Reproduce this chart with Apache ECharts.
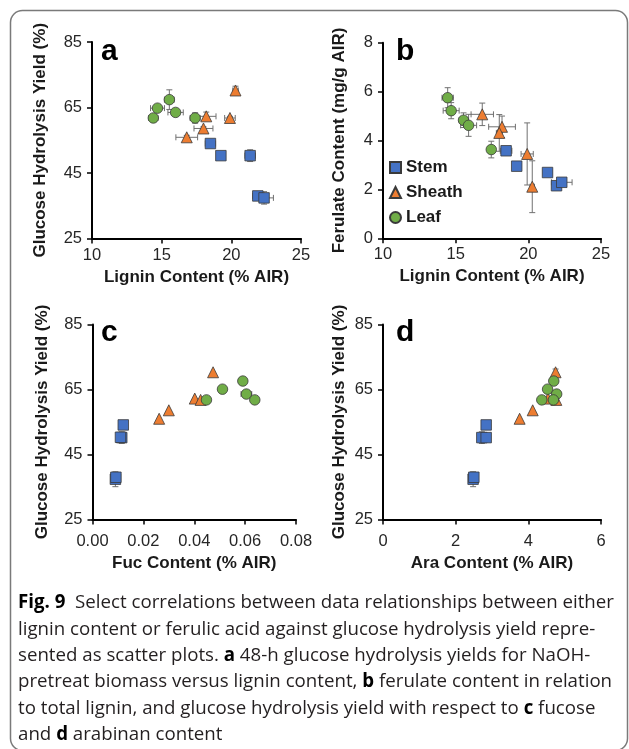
<!DOCTYPE html>
<html>
<head>
<meta charset="utf-8">
<script src="https://cdn.jsdelivr.net/npm/echarts@6/dist/echarts.min.js"></script>
<style>
html,body{margin:0;padding:0;background:#fff;}
#chart{width:629px;height:749px;}
</style>
</head>
<body>
<div id="chart"></div>
<script>
// ---- Data: each point is [x, y, xErr, yErr] ----
// Panel a: glucose hydrolysis yield (%) vs lignin content (% AIR)
const aStem   = [[18.5,54.0,0.37,0.4],[19.25,50.3,0.25,0.4],[21.35,50.3,0.38,1.8],[21.9,38.0,0.36,0.5],[22.35,37.4,0.67,1.9]];
const aSheath = [[20.3,70.2,0.2,1.3],[18.2,62.3,0.7,1.3],[19.9,61.8,0.38,0.5],[18.0,58.6,0.68,0.5],[16.8,55.9,0.78,0.6]];
const aLeaf   = [[14.4,61.8,0.33,0.4],[14.7,64.8,0.5,0.4],[15.55,67.4,0.35,3.0],[16.0,63.5,0.55,0.5],[17.4,61.8,0.36,1.6]];
// Panel b: ferulate content (mg/g AIR) vs lignin content (% AIR)
const bStem   = [[18.47,3.58,0.4,0.05],[19.2,2.95,0.25,0.05],[21.32,2.69,0.3,0.1],[21.94,2.15,0.3,0.05],[22.3,2.29,0.71,0.1]];
const bSheath = [[16.83,5.07,0.77,0.46],[18.19,4.56,0.92,0.44],[18.0,4.31,0.2,0.75],[19.92,3.45,0.42,1.27],[20.27,2.11,0.15,1.06]];
const bLeaf   = [[14.45,5.75,0.39,0.41],[14.69,5.22,0.55,0.33],[15.54,4.83,0.3,0.3],[15.89,4.62,0.55,0.45],[17.45,3.63,0.2,0.34]];
// Panel c: glucose hydrolysis yield (%) vs Fuc content (% AIR)
const cStem   = [[0.0121,54.1,0,0],[0.0115,50.2,0,1.8],[0.011,50.3,0,0],[0.009,37.4,0,2.3],[0.0092,38.0,0,0]];
const cSheath = [[0.0474,70.3,0,0],[0.0402,62.2,0,0],[0.0425,61.8,0,0],[0.030,58.6,0,0],[0.0262,56.0,0,0]];
const cLeaf   = [[0.0591,67.6,0,0],[0.0511,65.1,0,0],[0.0605,63.6,0.0021,0],[0.0448,61.8,0,0],[0.0638,61.8,0,0]];
// Panel d: glucose hydrolysis yield (%) vs Ara content (% AIR)
const dStem   = [[2.84,54.1,0,0],[2.72,50.2,0,1.8],[2.84,50.2,0,0],[2.48,37.4,0,2.3],[2.5,38.0,0,0]];
const dSheath = [[4.75,70.3,0,1.0],[4.54,62.2,0,0],[4.77,61.8,0,0],[4.12,58.6,0,0],[3.76,56.0,0,0]];
const dLeaf   = [[4.70,67.6,0,0],[4.53,65.1,0,0],[4.78,63.6,0,0.9],[4.37,61.8,0,0],[4.69,61.8,0,1.0]];

const groupNames = ['Stem','Sheath','Leaf'];
const panelLetters = ['a','b','c','d'];
const xTitles = ['Lignin Content (% AIR)','Lignin Content (% AIR)','Fuc Content (% AIR)','Ara Content (% AIR)'];
const yTitles = ['Glucose Hydrolysis Yield (%)','Ferulate Content (mg/g AIR)','Glucose Hydrolysis Yield (%)','Glucose Hydrolysis Yield (%)'];
const captionLines = [
  '{b|Fig. 9}  Select correlations between data relationships between either',
  'lignin content or ferulic acid against glucose hydrolysis yield repre-',
  'sented as scatter plots. {b|a} 48-h glucose hydrolysis yields for NaOH-',
  'pretreat biomass versus lignin content, {b|b} ferulate content in relation',
  'to total lignin, and glucose hydrolysis yield with respect to {b|c} fucose',
  'and {b|d} arabinan content'
];

const panels = [[aStem,aSheath,aLeaf],[bStem,bSheath,bLeaf],[cStem,cSheath,cLeaf],[dStem,dSheath,dLeaf]];

// ---- Styles ----
const FONT = 'Liberation Sans, Arial, sans-serif';
const styles = [
  {symbol:'rect', size:10.5, color:'#4472C4'},
  {symbol:'triangle', size:11, color:'#ED7D31'},
  {symbol:'circle', size:10.5, color:'#70AD47'}
];

const grids = [
  {left:92, top:42, width:209, height:196.5},
  {left:383, top:42.7, width:218, height:195.6},
  {left:92.5, top:324.5, width:203.5, height:195},
  {left:383, top:324.5, width:218, height:195}
];

const xSpec = [
  {min:10,max:25,interval:5},
  {min:10,max:25,interval:5},
  {min:0,max:0.08,interval:0.02, fmt:v=>v.toFixed(2)},
  {min:0,max:6,interval:2}
];
const ySpec = [
  {min:25,max:85,interval:20},
  {min:0,max:8,interval:2},
  {min:25,max:85,interval:20},
  {min:25,max:85,interval:20}
];
const yNameGap = [43, 35, 42, 35];
const xNameGap = [30, 30, 35, 35];
const xLabelMargin = [8, 8, 13, 13];

const axisCommon = {
  axisLine:{show:true, onZero:false, lineStyle:{color:'#000', width:2}},
  axisTick:{show:true, inside:false, length:5, lineStyle:{color:'#000', width:1.5}},
  splitLine:{show:false},
  nameTextStyle:{fontFamily:FONT, fontWeight:'bold', fontSize:17, color:'#1a1a1a'},
};

const xAxes = xSpec.map((s,i)=>Object.assign({}, axisCommon, {
  type:'value', gridIndex:i, min:s.min, max:s.max, interval:s.interval,
  name:xTitles[i], nameLocation:'middle', nameGap:xNameGap[i],
  axisLabel:{fontFamily:FONT, fontSize:16.5, color:'#262626', margin:xLabelMargin[i],
    formatter: s.fmt ? s.fmt : (v=>String(v))}
}));
const yAxes = ySpec.map((s,i)=>Object.assign({}, axisCommon, {
  type:'value', gridIndex:i, min:s.min, max:s.max, interval:s.interval,
  name:yTitles[i], nameLocation:'middle', nameGap:yNameGap[i], nameRotate:90,
  axisLabel:{fontFamily:FONT, fontSize:16.5, color:'#262626', margin:10}
}));

function errSeries(data, gi){
  return {
    type:'custom', name:'err', xAxisIndex:gi, yAxisIndex:gi, z:1, silent:true,
    encode:{x:0,y:1},
    data:data,
    renderItem:function(params, api){
      const x=api.value(0), y=api.value(1), ex=api.value(2), ey=api.value(3);
      const st={stroke:'#707070', lineWidth:1};
      const ch=[]; const cap=3;
      const ln=(p,q)=>({type:'line', shape:{x1:p[0],y1:p[1],x2:q[0],y2:q[1]}, style:st});
      if(ex>0){
        const p1=api.coord([x-ex,y]), p2=api.coord([x+ex,y]);
        ch.push(ln(p1,p2), ln([p1[0],p1[1]-cap],[p1[0],p1[1]+cap]), ln([p2[0],p2[1]-cap],[p2[0],p2[1]+cap]));
      }
      if(ey>0){
        const p1=api.coord([x,y-ey]), p2=api.coord([x,y+ey]);
        ch.push(ln(p1,p2), ln([p1[0]-cap,p1[1]],[p1[0]+cap,p1[1]]), ln([p2[0]-cap,p2[1]],[p2[0]+cap,p2[1]]));
      }
      return {type:'group', children:ch};
    }
  };
}

const series = [];
panels.forEach((groups, gi)=>{
  groups.forEach((data, k)=>{ series.push(errSeries(data, gi)); });
});
panels.forEach((groups, gi)=>{
  groups.forEach((data, k)=>{
    series.push({
      type:'scatter', name:groupNames[k], xAxisIndex:gi, yAxisIndex:gi, z:3,
      symbol:styles[k].symbol, symbolSize:styles[k].size,
      itemStyle:{color:styles[k].color, borderColor:'#3a3a3a', borderWidth:0.8, opacity:1},
      data:data.map(p=>[p[0],p[1]])
    });
  });
});

const letterPos = [[101,52],[396,52],[101,333],[396,333]];
const graphics = [
  {type:'rect', shape:{x:10.5,y:10.5,width:617,height:740,r:12}, style:{fill:'none', stroke:'#7a7a7a', lineWidth:1.5}, z:0}
];
panelLetters.forEach((t,i)=>{
  graphics.push({type:'text', x:letterPos[i][0], y:letterPos[i][1],
    style:{text:t, font:'bold 30px '+FONT, fill:'#000', verticalAlign:'middle', align:'left'}, z:10});
});
captionLines.forEach((t,i)=>{
  graphics.push({type:'text', x:18, y:603 + i*26.3,
    style:{text:t, fontFamily:'Open Sans', fontSize:18.7, fill:'#231f20', verticalAlign:'middle', align:'left',
      rich:{b:{fontFamily:'Open Sans', fontWeight:'bold', fontSize:18.7, fill:'#000'}}}, z:10});
});

const chart = echarts.init(document.getElementById('chart'), null, {renderer:'canvas'});
chart.setOption({
  animation:false,
  backgroundColor:'#fff',
  grid:grids,
  xAxis:xAxes,
  yAxis:yAxes,
  legend:{
    data:groupNames, orient:'vertical', left:389, top:159, itemGap:8,
    itemWidth:11, itemHeight:11, padding:0,
    textStyle:{fontFamily:FONT, fontWeight:'bold', fontSize:17, color:'#1a1a1a'}
  },
  series:series,
  graphic:graphics
});
</script>
</body>
</html>
